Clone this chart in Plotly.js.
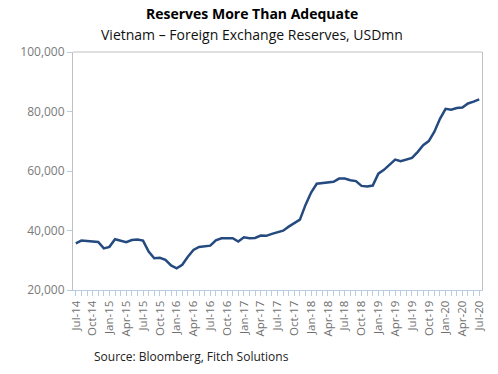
<!DOCTYPE html>
<html>
<head>
<meta charset="utf-8">
<script src="https://cdn.plot.ly/plotly-3.0.1.min.js"></script>
<style>html,body{margin:0;padding:0;background:#fff;}#chart{width:498px;height:374px;}</style>
</head>
<body>
<div id="chart"></div>
<script>
const months = [
  "Jul-14","Aug-14","Sep-14","Oct-14","Nov-14","Dec-14",
  "Jan-15","Feb-15","Mar-15","Apr-15","May-15","Jun-15","Jul-15","Aug-15","Sep-15","Oct-15","Nov-15","Dec-15",
  "Jan-16","Feb-16","Mar-16","Apr-16","May-16","Jun-16","Jul-16","Aug-16","Sep-16","Oct-16","Nov-16","Dec-16",
  "Jan-17","Feb-17","Mar-17","Apr-17","May-17","Jun-17","Jul-17","Aug-17","Sep-17","Oct-17","Nov-17","Dec-17",
  "Jan-18","Feb-18","Mar-18","Apr-18","May-18","Jun-18","Jul-18","Aug-18","Sep-18","Oct-18","Nov-18","Dec-18",
  "Jan-19","Feb-19","Mar-19","Apr-19","May-19","Jun-19","Jul-19","Aug-19","Sep-19","Oct-19","Nov-19","Dec-19",
  "Jan-20","Feb-20","Mar-20","Apr-20","May-20","Jun-20","Jul-20"
];
const reserves = [
  35700,36600,36500,36400,36150,34000,34500,37050,36500,36050,36800,37000,36600,32900,30650,30800,30100,28250,
  27300,28500,31200,33450,34450,34700,34900,36700,37400,37400,37400,36300,37700,37400,37500,38300,38200,38850,
  39450,39950,41300,42450,43650,48600,52750,55700,55900,55900,56350,57450,57450,56900,56600,55000,54800,55100,
  59100,60400,62000,63850,63300,63850,64400,66350,68700,70050,73200,77550,80900,80600,81150,81350,82700,83300,84050
];
const labelledMonths = ["Jul-14","Oct-14","Jan-15","Apr-15","Jul-15","Oct-15","Jan-16","Apr-16","Jul-16","Oct-16",
  "Jan-17","Apr-17","Jul-17","Oct-17","Jan-18","Apr-18","Jul-18","Oct-18","Jan-19","Apr-19","Jul-19","Oct-19",
  "Jan-20","Apr-20","Jul-20"];
const yTicks = [20000,40000,60000,80000,100000];
const titleText = "<b>Reserves More Than Adequate</b>";
const subtitleText = "Vietnam \u2013 Foreign Exchange Reserves, USDmn";
const sourceText = "Source: Bloomberg, Fitch Solutions";

const tickText = months.map(m => labelledMonths.includes(m) ? m : "");

const trace = {
  x: months, y: reserves, type: "scatter", mode: "lines",
  line: {color: "#244a7f", width: 2.5, shape: "linear"},
  hoverinfo: "skip"
};

const layout = {
  width: 498, height: 374,
  margin: {l: 73, r: 16, t: 52, b: 84},
  paper_bgcolor: "#fff", plot_bgcolor: "#fff",
  showlegend: false,
  font: {family: "Open Sans, sans-serif", color: "#777"},
  xaxis: {
    type: "category", categoryorder: "array", categoryarray: months,
    range: [-0.5, months.length - 0.5],
    tickmode: "array", tickvals: months, ticktext: tickText,
    tickangle: -90, tickfont: {size: 11.5, color: "#6f6f6f"},
    ticks: "outside", ticklen: 5, tickcolor: "#b8cce4", tickwidth: 1,
    showline: true, linecolor: "#b8cce4", linewidth: 1,
    showgrid: false, zeroline: false, fixedrange: true
  },
  yaxis: {
    range: [20000, 100000], tickvals: yTicks,
    tickformat: ",d", tickfont: {size: 12, color: "#7a7a7a"},
    ticks: "outside", ticklen: 5, tickcolor: "#b8cce4", tickwidth: 1,
    showline: true, linecolor: "#c0c0c0", linewidth: 1, mirror: true,
    showgrid: false, zeroline: false, fixedrange: true
  },
  shapes: [{type: "line", xref: "paper", yref: "paper", x0: 0, x1: 1, y0: 1, y1: 1,
            line: {color: "#c0c0c0", width: 1}}],
  annotations: [
    {text: titleText, xref: "paper", yref: "paper", x: 0.5, xanchor: "center",
     y: 1, yshift: 50, yanchor: "top", showarrow: false,
     font: {size: 14, color: "#000", family: "Open Sans, sans-serif"}, xshift: -26},
    {text: subtitleText, xref: "paper", yref: "paper", x: 0.5, xanchor: "center",
     y: 1, yshift: 29, yanchor: "top", showarrow: false,
     font: {size: 14, color: "#111", family: "Open Sans, sans-serif"}, xshift: -26},
    {text: sourceText, xref: "paper", yref: "paper", x: 0.5, xanchor: "center",
     y: 0, yshift: -56, yanchor: "top", showarrow: false,
     font: {size: 12, color: "#222", family: "Open Sans, sans-serif"}, xshift: -86}
  ]
};

Plotly.newPlot("chart", [trace], layout, {displayModeBar: false, staticPlot: true});
</script>
</body>
</html>
